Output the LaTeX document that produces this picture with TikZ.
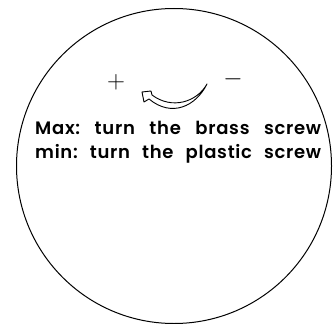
\documentclass[tikz,border=0pt]{standalone}
\usepackage{fontspec}
\setmainfont{Poppins}
\newfontfamily\notefamily{Poppins SemiBold}[LetterSpace=4]
\newcommand\notefont{\notefamily\fontsize{18}{23.5}\selectfont\frenchspacing}
\newcommand\noteline[1]{\makebox[286pt][s]{#1}}
\begin{document}
\begin{tikzpicture}[x=1pt,y=-1pt]
  \useasboundingbox (0,0) rectangle (336,323);
  \draw[line width=1pt] (174,166) circle (157.5);
  \node[font=\fontsize{37}{37}\selectfont] (plus) at (116,82) {$+$};
  \node[font=\fontsize{37}{37}\selectfont] (minus) at (233,79) {$-$};
  \draw[line width=0.9pt,line join=round] (207,84) .. controls (196,106) and (172,118) .. (149,99)
    -- (144,102) -- (142,92) -- (151,91) -- (152,95) .. controls (172,110) and (197,102) .. (207,84) -- cycle;
  \node[font=\notefont,align=left,anchor=base west,inner sep=0pt] (note) at (35,158)
    {\noteline{Max: turn the brass screw}\\\noteline{min: turn the plastic screw}};
\end{tikzpicture}
\end{document}
